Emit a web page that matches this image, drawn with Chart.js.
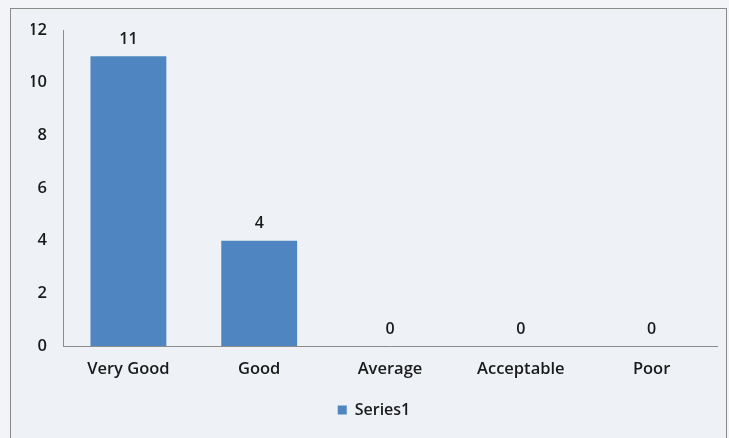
<!DOCTYPE html>
<html>
<head>
<meta charset="utf-8">
<script src="https://cdn.jsdelivr.net/npm/chart.js@4"></script>
<style>
  html, body { margin: 0; padding: 0; background: #f3f4f7; }
  #wrap { position: absolute; left: 10px; top: 8px; width: 717px; height: 440px; border: 1px solid #8a8a8a; background: #eef1f6; box-sizing: border-box; }
  canvas { display: block; }
</style>
</head>
<body>
<div id="wrap"><canvas id="c" width="717" height="440"></canvas></div>
<script>
const categories = ["Very Good", "Good", "Average", "Acceptable", "Poor"];
const seriesName = "Series1";
const values = [11, 4, 0, 0, 0];
const yTicks = [0, 2, 4, 6, 8, 10, 12];

const FONT = "'Open Sans', Lato, sans-serif";
const TEXT = "#1a1a1a";

const dataLabels = {
  id: 'dataLabels',
  afterDatasetsDraw(chart) {
    const ctx = chart.ctx;
    const meta = chart.getDatasetMeta(0);
    ctx.save();
    ctx.font = "600 16px " + FONT;
    ctx.fillStyle = TEXT;
    ctx.textAlign = 'center';
    ctx.textBaseline = 'bottom';
    meta.data.forEach((bar, i) => {
      ctx.fillText(String(values[i]), bar.x, bar.y - 9);
    });
    ctx.restore();
  }
};

new Chart(document.getElementById('c'), {
  type: 'bar',
  data: {
    labels: categories,
    datasets: [{
      label: seriesName,
      data: values,
      backgroundColor: '#4f86c1',
      borderWidth: 0,
      categoryPercentage: 0.58,
      barPercentage: 1.0
    }]
  },
  options: {
    responsive: false,
    animation: false,
    layout: { padding: { top: 21, left: 20, right: 11, bottom: 21 } },
    scales: {
      x: {
        grid: { display: false, drawTicks: false },
        border: { display: true, color: '#8c8c8c', width: 1 },
        ticks: { color: TEXT, font: { family: FONT, size: 16.5, weight: '600' }, padding: 13, maxRotation: 0 },
        afterFit(s) { s.height = 46; }
      },
      y: {
        min: 0, max: 12,
        grid: { display: false, drawTicks: false },
        border: { display: true, color: '#8c8c8c', width: 1 },
        afterBuildTicks(s) { s.ticks = yTicks.map(v => ({ value: v })); },
        ticks: { color: TEXT, font: { family: FONT, size: 16.5, weight: '600' }, padding: 16 },
        afterFit(s) { s.width = 32; s.paddingTop = 0; s.paddingBottom = 0; }
      }
    },
    plugins: {
      legend: {
        position: 'bottom',
        labels: { color: TEXT, font: { family: FONT, size: 16, weight: '600' }, boxWidth: 9, boxHeight: 9, padding: 10 }
      },
      tooltip: { enabled: false }
    }
  },
  plugins: [dataLabels]
});
</script>
</body>
</html>
